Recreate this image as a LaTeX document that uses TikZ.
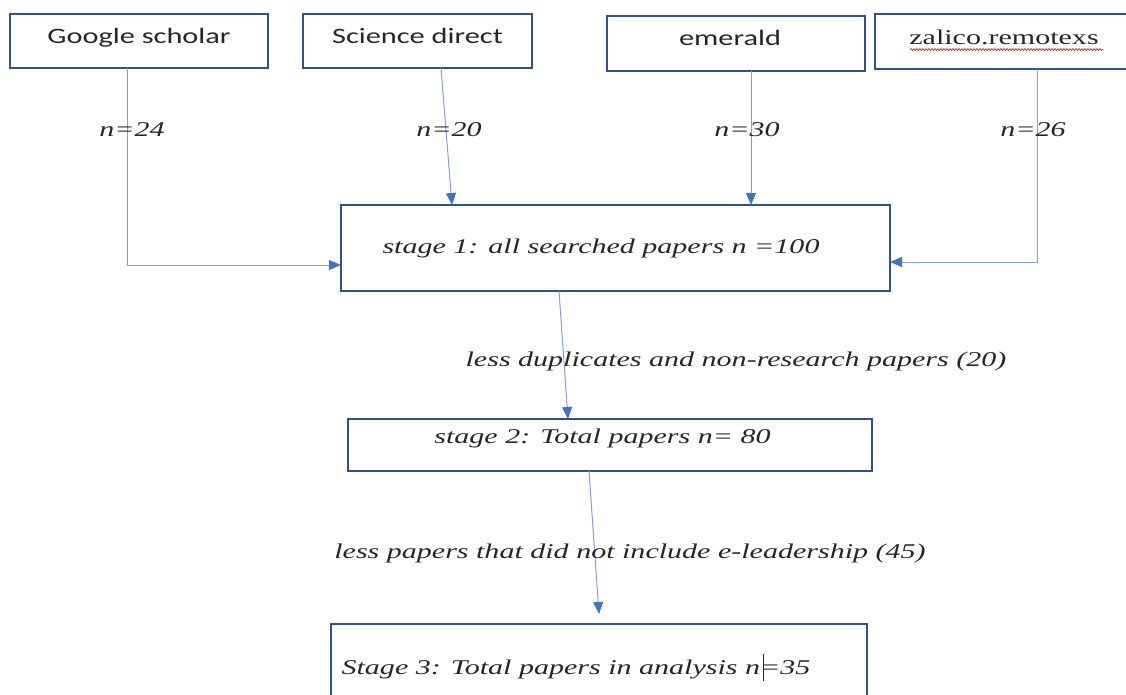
\documentclass[tikz,border=0pt]{standalone}
\usepackage{fontspec}
\setmainfont{Liberation Serif}
\newfontfamily\calib{Carlito}
\usetikzlibrary{arrows.meta,decorations.pathmorphing}
\definecolor{boxblue}{RGB}{47,82,143}
\definecolor{lineblue}{RGB}{130,160,215}
\definecolor{tipblue}{RGB}{68,114,196}
\definecolor{txt}{RGB}{38,38,38}
\newcommand\wideit[1]{\scalebox{1.43}[1]{\itshape #1}}
\newcommand\widesans[1]{\scalebox{1.38}[1]{\fontsize{22}{26}\selectfont\calib #1}}
\newcommand\wideserif[1]{\scalebox{1.43}[1]{#1}}
\tikzset{
  srcbox/.style={draw=boxblue,line width=1.5pt,inner sep=0pt,outer sep=0pt,rectangle},
  stagebox/.style={draw=boxblue,line width=1.5pt,inner sep=0pt,outer sep=0pt,rectangle},
  lbl/.style={anchor=base,inner sep=0pt,text=txt,font=\fontsize{21}{25}\selectfont},
  conn/.style={draw=lineblue,line width=1pt,-{Triangle[length=12pt,width=10pt,color=tipblue]}},
  wavy/.style={draw=red!85!black,line width=0.6pt,decorate,decoration={snake,amplitude=0.9pt,segment length=3pt}}
}
\begin{document}
\begin{tikzpicture}[x=1pt,y=-1pt]
\useasboundingbox (0,0) rectangle (1126,695);
\clip (0,0) rectangle (1126,695);
% source boxes
\node[srcbox,minimum width=258pt,minimum height=54pt] (gs) at (139,41) {};
\node[srcbox,minimum width=229pt,minimum height=54pt] (sd) at (417.5,41) {};
\node[srcbox,minimum width=258pt,minimum height=55pt] (em) at (736,43.5) {};
\node[srcbox,minimum width=260pt,minimum height=55pt] (za) at (1005,41.5) {};
\node[lbl] (gst) at (139,44) {\widesans{Google scholar}};
\node[lbl] (sdt) at (417.5,44) {\widesans{Science direct}};
\node[lbl] (emt) at (730,46) {\widesans{emerald}};
\node[lbl] (zat) at (1004,45) {\wideserif{zalico.remotexs}};
\coordinate (wavyA) at (910,49.5);
\coordinate (wavyB) at (1103,49.5);
\draw[wavy] (wavyA) -- (wavyB);
% stage boxes
\node[stagebox,minimum width=549pt,minimum height=86pt] (s1) at (615.5,248) {};
\node[stagebox,minimum width=524pt,minimum height=52pt] (s2) at (610,445) {};
\node[stagebox,minimum width=536pt,minimum height=86pt] (s3) at (599,667) {};
% connectors
\draw[conn] ([xshift=-12pt]gs.south) |- ([yshift=-17pt]s1.west);
\draw[conn] ([xshift=23.5pt]sd.south) -- ([xshift=-163.5pt]s1.north);
\draw[conn] ([xshift=15pt]em.south) -- ([xshift=135.5pt]s1.north);
\draw[conn] ([xshift=32pt]za.south) |- ([yshift=-14pt]s1.east);
\draw[conn] ([xshift=-56.5pt]s1.south) -- ([xshift=-42pt]s2.north);
\draw[conn] ([xshift=-21pt]s2.south) -- ([yshift=10pt]s3.north);
% labels
\node[lbl] (n24) at (132,137) {\wideit{n=24}};
\node[lbl] (n20) at (449,137) {\wideit{n=20}};
\node[lbl] (n30) at (747,137) {\wideit{n=30}};
\node[lbl] (n26) at (1033,137) {\wideit{n=26}};
\node[lbl] (s1t) at (601,253) {\wideit{stage 1: all searched papers n =100}};
\node[lbl] (dupt) at (736,366) {\wideit{less duplicates and non-research papers (20)}};
\node[lbl] (s2t) at (602.5,443) {\wideit{stage 2: Total papers n= 80}};
\node[lbl] (elt) at (630,558) {\wideit{less papers that did not include e-leadership (45)}};
\node[lbl] (s3t) at (576,674) {\wideit{Stage 3: Total papers in analysis n=35}};
\coordinate (curA) at (763,654);
\coordinate (curB) at (763,681);
\draw[txt,line width=0.8pt] (curA) -- (curB);
\end{tikzpicture}
\end{document}
